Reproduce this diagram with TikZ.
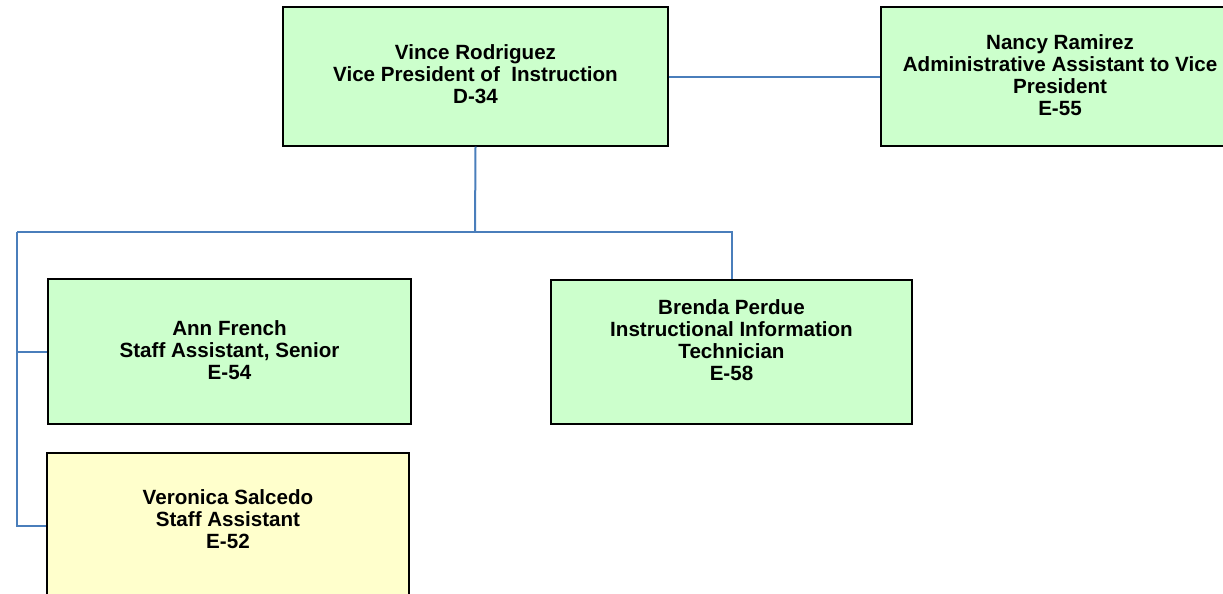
\documentclass[tikz,border=0pt]{standalone}
\usepackage{fontspec}
\setmainfont{Liberation Sans}
\definecolor{boxgreen}{HTML}{CCFFCC}
\definecolor{boxyellow}{HTML}{FFFFCC}
\definecolor{linkblue}{HTML}{4A7EBB}
\usetikzlibrary{shadows}
\tikzset{
  orgbox/.style={draw=black, line width=1.3pt, rectangle, inner sep=0pt,
    drop shadow={shadow xshift=1pt, shadow yshift=-1.2pt, fill=black!60, opacity=1}},
  orgtext/.style={align=center, font=\bfseries\fontsize{20.6}{22}\selectfont, inner sep=0pt},
  link/.style={draw=linkblue, line width=2pt}
}
\begin{document}
\begin{tikzpicture}[x=1pt,y=-1pt]
\useasboundingbox (0,0) rectangle (1223,594);
\begin{scope}
\clip (0,0) rectangle (1223,594);
% boxes
\node[orgbox, fill=boxgreen, minimum width=385pt, minimum height=139pt] (vince) at (475.5,76.5) {};
\node[orgbox, fill=boxgreen, minimum width=358pt, minimum height=139pt] (nancy) at (1060,76.5) {};
\node[orgbox, fill=boxgreen, minimum width=363pt, minimum height=145pt] (ann) at (229.5,351.5) {};
\node[orgbox, fill=boxgreen, minimum width=361pt, minimum height=144pt] (brenda) at (731.5,352) {};
\node[orgbox, fill=boxyellow, minimum width=362pt, minimum height=146pt] (veronica) at (228,526) {};
% texts
\node[orgtext] (vincet) at (475.5,74.5) {Vince Rodriguez\\Vice President of\ \ Instruction\\D-34};
\node[orgtext] (nancyt) at (1060,75.5) {Nancy Ramirez\\Administrative Assistant to Vice\\President\\E-55};
\node[orgtext] (annt) at (229.5,350) {Ann French\\Staff Assistant, Senior\\E-54};
\node[orgtext] (brendat) at (731.5,340) {Brenda Perdue\\Instructional Information\\Technician\\E-58};
\node[orgtext] (veronicat) at (228,519.5) {Veronica Salcedo\\Staff Assistant\\E-52};
% connectors
\coordinate (bus) at (475,232);
\coordinate (lft) at (17,232);
\draw[link] (vince.east) -- (nancy.west);
\draw[link] (vince.south) -- (bus);
\draw[link] (lft) -- (brenda.north |- bus) -- (brenda.north);
\draw[link] (lft) |- (veronica.west);
\draw[link] (ann.west -| lft) -- (ann.west);
\end{scope}
\end{tikzpicture}
\end{document}
